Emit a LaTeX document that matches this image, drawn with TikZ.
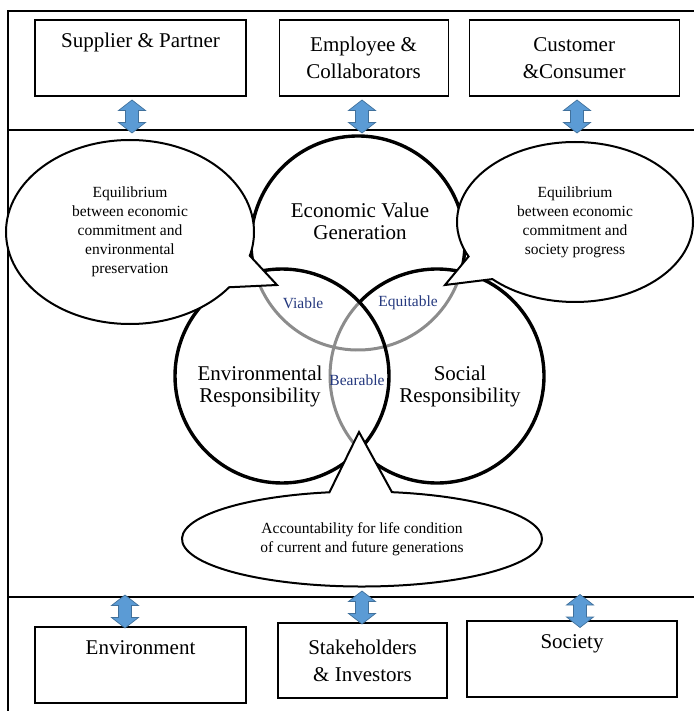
\documentclass[tikz,border=0pt]{standalone}
\usepackage{fontspec}
\setmainfont{Liberation Serif}
\usetikzlibrary{positioning,shapes.callouts}

\definecolor{arrowblue}{RGB}{91,155,213}
\definecolor{arrowedge}{RGB}{65,113,156}
\definecolor{ringgray}{RGB}{140,140,140}
\definecolor{pairblue}{RGB}{36,56,126}

\tikzset{
  frameline/.style={line width=1.8pt},
  box/.style={draw, line width=1.1pt, minimum height=76pt, inner sep=0pt,
    align=center, font=\fontsize{21}{27}\selectfont},
  ring/.style={line width=3.4pt},
  ringback/.style={line width=3pt, draw=ringgray},
  ringtxt/.style={align=center, inner sep=0pt, font=\fontsize{21}{22}\selectfont},
  pairtxt/.style={inner sep=0pt, text=pairblue, font=\fontsize{15.5}{18}\selectfont},
  bubble/.style={ellipse callout, draw, fill=white, line width=2pt, align=center,
    inner sep=0pt, font=\fontsize{15.5}{19}\selectfont},
  twoway/.pic={
    \draw[fill=arrowblue, draw=arrowedge, line width=0.7pt]
      (0,-16.5) -- (13.5,-6) -- (6.5,-6) -- (6.5,6) -- (13.5,6) -- (0,16.5)
      -- (-13.5,6) -- (-6.5,6) -- (-6.5,-6) -- (-13.5,-6) -- cycle;
  }
}

\begin{document}
\begin{tikzpicture}[x=1pt, y=-1pt]
  \useasboundingbox (0,0) rectangle (694,711);

  % Frame and bands
  \draw[frameline] (8,711) -- (8,11) -- (694,11);
  \draw[frameline] (8,130) -- (694,130);
  \draw[frameline] (8,597) -- (694,597);

  % Define nodes
  \node[box, minimum width=211pt]               (supp) at (140.5,58) {Supplier \& Partner\\\strut};
  \node[box, minimum width=169pt, right=32pt of supp] (empl) {Employee \&\\Collaborators};
  \node[box, minimum width=210pt, right=20pt of empl] (cust) {Customer\\\&Consumer};
  \node[box, minimum width=211pt]               (envr) at (140.5,665) {Environment\\\strut};
  \node[box, minimum width=169pt, minimum height=75pt] (stak) at (362.5,660.5) {Stakeholders\\\& Investors};
  \node[box, minimum width=210pt]               (socy) at (572,659) {Society\\\strut};

  % Two way arrows
  \pic at (132,116.5) {twoway};
  \pic at (362,116.5) {twoway};
  \pic at (577,116.5) {twoway};
  \pic at (125,611.5) {twoway};
  \pic at (362,607.5) {twoway};
  \pic at (580,611)   {twoway};

  % The three rings
  \coordinate (econ) at (358,243);
  \coordinate (envc) at (282,376);
  \coordinate (socc) at (437,376);

  \draw[ringback] (econ) ++(15.6:107) arc[start angle=15.6, end angle=164.1, radius=107];
  \draw[ringback] (socc) ++(136.4:107) arc[start angle=136.4, end angle=223.6, radius=107];
  \draw[ring] (envc) circle[radius=107];
  \draw[ring] (socc) ++(223.6:107) arc[start angle=223.6, end angle=496.4, radius=107];
  \draw[ring] (econ) ++(164.1:107) arc[start angle=164.1, end angle=375.6, radius=107];

  \node[ringtxt] (econtxt) at (360,221) {Economic Value\\Generation};
  \node[ringtxt] (envtxt)  at (260,386) {Environmental\\Responsibility};
  \node[ringtxt] (soctxt)  at (460,386) {Social\\Responsibility};

  \node[pairtxt] (viable) at (303,303) {Viable};
  \node[pairtxt] (equit)  at (408,303) {Equitable};
  \node[pairtxt] (bear)   at (357,380) {Bearable};

  % Callouts
  \node[bubble, minimum width=248pt, minimum height=184pt,
    callout absolute pointer={(277,285)}, callout pointer arc=22] (lcall) at (130,232)
    {Equilibrium\\between economic\\commitment and\\environmental\\preservation};
  \node[bubble, minimum width=236pt, minimum height=160pt,
    callout absolute pointer={(445,285)}, callout pointer arc=20] (rcall) at (575,222)
    {Equilibrium\\between economic\\commitment and\\society progress};
  \node[bubble, minimum width=360pt, minimum height=95pt,
    callout absolute pointer={(359,432)}, callout pointer arc=20] (bcall) at (362,539)
    {Accountability for life condition\\of current and future generations};

\end{tikzpicture}
\end{document}
